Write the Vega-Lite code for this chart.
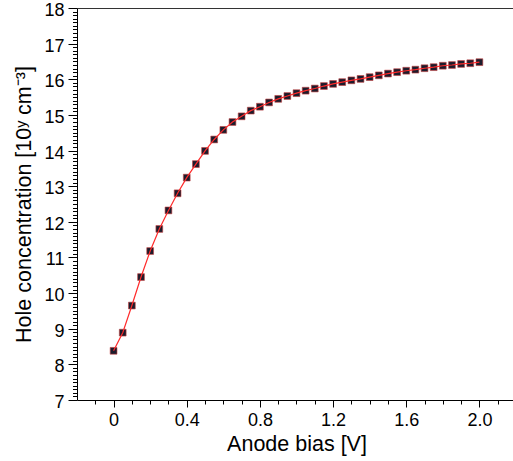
{
  "$schema": "https://vega.github.io/schema/vega-lite/v6.json",
  "autosize": "none",
  "width": 439,
  "height": 392,
  "padding": {"left": 77, "top": 8, "right": 0, "bottom": 61},
  "config": {
    "view": {"stroke": null},
    "font": "Liberation Sans",
    "axis": {"grid": false, "domainColor": "#000", "tickColor": "#000", "labelColor": "#000", "titleColor": "#000", "labelFont": "Liberation Sans", "titleFont": "Liberation Sans", "titleFontWeight": "normal"}
  },
  "data": {"values": [
    {"bias": 0.00, "conc": 8.38},
    {"bias": 0.05, "conc": 8.89},
    {"bias": 0.10, "conc": 9.65},
    {"bias": 0.15, "conc": 10.45},
    {"bias": 0.20, "conc": 11.18},
    {"bias": 0.25, "conc": 11.80},
    {"bias": 0.30, "conc": 12.32},
    {"bias": 0.35, "conc": 12.80},
    {"bias": 0.40, "conc": 13.24},
    {"bias": 0.45, "conc": 13.62},
    {"bias": 0.50, "conc": 13.99},
    {"bias": 0.55, "conc": 14.31},
    {"bias": 0.60, "conc": 14.58},
    {"bias": 0.65, "conc": 14.80},
    {"bias": 0.70, "conc": 14.96},
    {"bias": 0.75, "conc": 15.12},
    {"bias": 0.80, "conc": 15.23},
    {"bias": 0.85, "conc": 15.35},
    {"bias": 0.90, "conc": 15.45},
    {"bias": 0.95, "conc": 15.53},
    {"bias": 1.00, "conc": 15.61},
    {"bias": 1.05, "conc": 15.68},
    {"bias": 1.10, "conc": 15.74},
    {"bias": 1.15, "conc": 15.81},
    {"bias": 1.20, "conc": 15.87},
    {"bias": 1.25, "conc": 15.92},
    {"bias": 1.30, "conc": 15.97},
    {"bias": 1.35, "conc": 16.01},
    {"bias": 1.40, "conc": 16.06},
    {"bias": 1.45, "conc": 16.11},
    {"bias": 1.50, "conc": 16.16},
    {"bias": 1.55, "conc": 16.20},
    {"bias": 1.60, "conc": 16.24},
    {"bias": 1.65, "conc": 16.27},
    {"bias": 1.70, "conc": 16.31},
    {"bias": 1.75, "conc": 16.34},
    {"bias": 1.80, "conc": 16.38},
    {"bias": 1.85, "conc": 16.40},
    {"bias": 1.90, "conc": 16.43},
    {"bias": 1.95, "conc": 16.45},
    {"bias": 2.00, "conc": 16.48}
  ]},
  "resolve": {"axis": {"x": "independent", "y": "independent"}},
  "layer": [
    {
      "mark": {"type": "point", "shape": "square", "filled": true, "size": 46, "color": "#1c1c2c", "stroke": "#c84040", "strokeWidth": 0.6, "opacity": 1},
      "encoding": {
        "x": {"field": "bias", "type": "quantitative", "scale": {"domain": [-0.2, 2.2], "nice": false, "zero": false},
          "axis": {"orient": "bottom", "title": null, "labels": false, "domain": false, "tickSize": 4, "values": [-0.1, 0.1, 0.2, 0.3, 0.5, 0.6, 0.7, 0.9, 1.0, 1.1, 1.3, 1.4, 1.5, 1.7, 1.8, 1.9, 2.1]}},
        "y": {"field": "conc", "type": "quantitative", "scale": {"domain": [7, 18], "nice": false, "zero": false},
          "axis": {"orient": "left", "title": null, "labels": false, "domain": false, "tickSize": 4.5, "values": [7.1,7.2,7.3,7.4,7.5,7.6,7.7,7.8,7.9,8.1,8.2,8.3,8.4,8.5,8.6,8.7,8.8,8.9,9.1,9.2,9.3,9.4,9.5,9.6,9.7,9.8,9.9,10.1,10.2,10.3,10.4,10.5,10.6,10.7,10.8,10.9,11.1,11.2,11.3,11.4,11.5,11.6,11.7,11.8,11.9,12.1,12.2,12.3,12.4,12.5,12.6,12.7,12.8,12.9,13.1,13.2,13.3,13.4,13.5,13.6,13.7,13.8,13.9,14.1,14.2,14.3,14.4,14.5,14.6,14.7,14.8,14.9,15.1,15.2,15.3,15.4,15.5,15.6,15.7,15.8,15.9,16.1,16.2,16.3,16.4,16.5,16.6,16.7,16.8,16.9,17.1,17.2,17.3,17.4,17.5,17.6,17.7,17.8,17.9]}}
      }
    },
    {
      "mark": {"type": "line", "color": "#ff2a2a", "strokeWidth": 1.2},
      "encoding": {
        "x": {"field": "bias", "type": "quantitative",
          "axis": {"orient": "bottom", "title": "Anode bias [V]", "titleFontSize": 21.5, "titlePadding": 4, "labelFontSize": 18, "labelPadding": 4, "tickSize": 7, "values": [0, 0.4, 0.8, 1.2, 1.6, 2.0], "labelExpr": "datum.value == 0 ? '0' : format(datum.value, '.1f')"}},
        "y": {"field": "conc", "type": "quantitative",
          "axis": {"orient": "left", "title": "Hole concentration [10ʸ cm⁻³]", "titleFontSize": 21.5, "titlePadding": 8, "labelFontSize": 18, "labelPadding": 4, "labelOffset": 2.5, "labelFlush": false, "tickSize": 9, "values": [7, 8, 9, 10, 11, 12, 13, 14, 15, 16, 17, 18]}}
      }
    },
    {
      "mark": {"type": "line", "opacity": 0},
      "encoding": {
        "x": {"field": "bias", "type": "quantitative",
          "axis": {"orient": "top", "title": null, "labels": false, "ticks": false, "domain": true, "domainColor": "#333"}},
        "y": {"field": "conc", "type": "quantitative", "axis": null}
      }
    }
  ]
}
